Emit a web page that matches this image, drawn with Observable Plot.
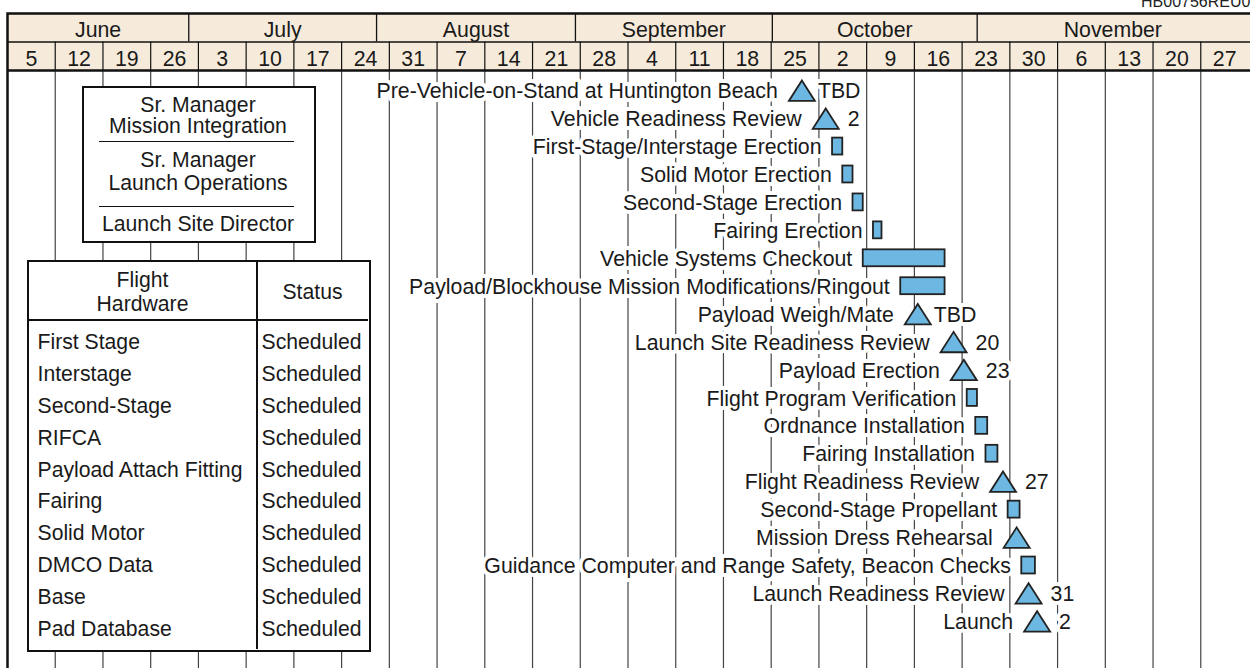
<!DOCTYPE html>
<html><head><meta charset="utf-8">
<script src="https://cdn.jsdelivr.net/npm/d3@7"></script>
<script src="https://cdn.jsdelivr.net/npm/@observablehq/plot@0.6"></script>
<style>
html,body{margin:0;padding:0;background:#fff;overflow:hidden;}
#wrap{position:relative;width:1250px;height:668px;overflow:hidden;font-family:"Liberation Sans",Arial,Helvetica,sans-serif;color:#1a1a1a;}
#charts{position:absolute;left:0;top:0;width:1260px;}
#charts svg{display:block;max-width:none;}
.box{position:absolute;box-sizing:border-box;border:2.5px solid #111;background:#fff;}
.ln{position:absolute;white-space:nowrap;font-size:21.2px;line-height:24px;height:24px;}
.sep{position:absolute;background:#111;}
#code{position:absolute;left:1141px;top:-6px;font-size:16px;line-height:16px;white-space:nowrap;color:#222;}
</style></head><body>
<div id="wrap"><div id="charts"></div><div id="code">HB00756REU0.3</div></div>
<script>
// ---------- data ----------
const months = ["June","July","August","September","October","November"];
const monthStarts = ["2000-06-05","2000-07-01T14:00Z","2000-07-29T03:00Z","2000-08-27T07:00Z","2000-09-25T04:00Z","2000-10-25T05:00Z"];
const scheduleEnd = "2000-12-04";
const weekStarts = ["2000-06-05","2000-06-12","2000-06-19","2000-06-26","2000-07-03","2000-07-10","2000-07-17","2000-07-24","2000-07-31","2000-08-07","2000-08-14","2000-08-21","2000-08-28","2000-09-04","2000-09-11","2000-09-18","2000-09-25","2000-10-02","2000-10-09","2000-10-16","2000-10-23","2000-10-30","2000-11-06","2000-11-13","2000-11-20","2000-11-27"];
const weekLabels = ["5","12","19","26","3","10","17","24","31","7","14","21","28","4","11","18","25","2","9","16","23","30","6","13","20","27"];

const taskNames = [
  "Pre-Vehicle-on-Stand at Huntington Beach",
  "Vehicle Readiness Review",
  "First-Stage/Interstage Erection",
  "Solid Motor Erection",
  "Second-Stage Erection",
  "Fairing Erection",
  "Vehicle Systems Checkout",
  "Payload/Blockhouse Mission Modifications/Ringout",
  "Payload Weigh/Mate",
  "Launch Site Readiness Review",
  "Payload Erection",
  "Flight Program Verification",
  "Ordnance Installation",
  "Fairing Installation",
  "Flight Readiness Review",
  "Second-Stage Propellant",
  "Mission Dress Rehearsal",
  "Guidance Computer and Range Safety, Beacon Checks",
  "Launch Readiness Review",
  "Launch"
];
const taskKinds = ["milestone","milestone","bar","bar","bar","bar","bar","bar","milestone","milestone","milestone","bar","bar","bar","milestone","bar","milestone","bar","milestone","milestone"];
const taskStarts = ["2000-09-29T12:00Z","2000-10-03T00:00Z","2000-10-04T00:00Z","2000-10-05T12:00Z","2000-10-07T00:00Z","2000-10-10T00:00Z","2000-10-08T12:00Z","2000-10-14T00:00Z","2000-10-16T12:00Z","2000-10-21T18:00Z","2000-10-23T06:00Z","2000-10-23T18:00Z","2000-10-25T00:00Z","2000-10-26T12:00Z","2000-10-29T00:00Z","2000-10-29T18:00Z","2000-10-31T00:00Z","2000-10-31T18:00Z","2000-11-01T18:00Z","2000-11-03T00:00Z"];
const taskEnds = [null,null,"2000-10-05T12:00Z","2000-10-07T00:00Z","2000-10-08T12:00Z","2000-10-11T06:00Z","2000-10-20T12:00Z","2000-10-20T12:00Z",null,null,null,"2000-10-25T06:00Z","2000-10-26T18:00Z","2000-10-28T06:00Z",null,"2000-10-31T12:00Z",null,"2000-11-02T18:00Z",null,null];
const taskNotes = ["TBD","2","","","","","","","TBD","20","23","","","","27","","","","31","2"];

const managerRoles = [["Sr. Manager","Mission Integration"],["Sr. Manager","Launch Operations"],["Launch Site Director"]];
const hardwareHeader = ["Flight\nHardware","Status"];
const hardwareItems = ["First Stage","Interstage","Second-Stage","RIFCA","Payload Attach Fitting","Fairing","Solid Motor","DMCO Data","Base","Pad Database"];
const hardwareStatus = ["Scheduled","Scheduled","Scheduled","Scheduled","Scheduled","Scheduled","Scheduled","Scheduled","Scheduled","Scheduled"];

// ---------- styles ----------
const FONT = '"Liberation Sans", Arial, Helvetica, sans-serif';
const FS = 21.3;
const INK = "#1a1a1a";
const BLUE = "#6db8e2";
const BEIGE = "#f6ebda";
const DAY = 864e5;

const parse = s => new Date(s);
const xScale = {type: "utc", domain: [parse(weekStarts[0]), parse(scheduleEnd)], range: [7, 1248], axis: null};
const svgStyle = {fontFamily: FONT, fontSize: FS + "px", background: "transparent", maxWidth: "none", color: INK};

const monthData = months.map((name, i) => ({name, start: parse(monthStarts[i]), end: parse(i + 1 < months.length ? monthStarts[i + 1] : scheduleEnd)}));
const weekData = weekStarts.map((s, i) => ({label: weekLabels[i], start: parse(s), end: new Date(+parse(s) + 7 * DAY)}));

const header = Plot.plot({
  width: 1260, height: 70, marginTop: 13, marginBottom: 0, marginLeft: 7, marginRight: 5,
  x: xScale,
  y: {type: "linear", domain: [0, 2], range: [13, 70], axis: null},
  style: svgStyle,
  marks: [
    Plot.rect(monthData, {x1: "start", x2: d => new Date(+d.end + 3 * DAY), y1: 0, y2: 1, fill: BEIGE}),
    Plot.rect(weekData, {x1: "start", x2: d => new Date(+d.end + 3 * DAY), y1: 1, y2: 2, fill: BEIGE}),
    Plot.ruleY([1], {stroke: "#111", strokeWidth: 1.6}),
    Plot.ruleX(monthData.slice(1), {x: "start", y1: 0, y2: 1, stroke: "#111", strokeWidth: 1.3}),
    Plot.ruleX(weekData.slice(1), {x: "start", y1: 1, y2: 2, stroke: "#111", strokeWidth: 1.2}),
    Plot.text(monthData, {x: d => new Date((+d.start + +d.end) / 2), y: () => 0.5, text: "name", fontSize: FS, fill: INK, dy: 2.5}),
    Plot.text(weekData, {x: d => new Date((+d.start + +d.end) / 2), y: () => 1.5, text: "label", fontSize: FS, fill: INK, dy: 2.5}),
    Plot.frame({stroke: "#111", strokeWidth: 2.5})
  ]
});

const tasks = taskNames.map((name, i) => ({
  name, kind: taskKinds[i], start: parse(taskStarts[i]),
  end: taskEnds[i] ? parse(taskEnds[i]) : null, note: taskNotes[i]
}));
const bars = tasks.filter(d => d.kind === "bar");
const miles = tasks.filter(d => d.kind === "milestone");

const triangle = {
  draw(ctx, size) {
    const r = Math.sqrt(size / Math.PI);
    const w = 1.3 * r, h = 1.02 * r;
    ctx.moveTo(0, -h); ctx.lineTo(w, h); ctx.lineTo(-w, h); ctx.closePath();
  }
};
const halo = {stroke: "white", strokeWidth: 8, paintOrder: "stroke", strokeLinejoin: "round", fill: INK, fontSize: FS};

const body = Plot.plot({
  width: 1260, height: 610, marginTop: 0, marginBottom: 0, marginLeft: 7, marginRight: 5,
  x: xScale,
  y: {type: "band", domain: taskNames, range: [6.235, 564.835], padding: 0, round: false, axis: null},
  style: svgStyle,
  marks: [
    Plot.ruleX(weekData.slice(1), {x: "start", stroke: "#444", strokeWidth: 1.2}),
    Plot.frame({stroke: "#111", strokeWidth: 2.5}),
    Plot.text(bars, {x: "start", y: "name", text: "name", textAnchor: "end", dx: -11, dy: 0.8, ...halo}),
    Plot.text(miles, {x: "start", y: "name", text: "name", textAnchor: "end", dx: -24, dy: 0.8, ...halo}),
    Plot.text(miles.filter(d => d.note === "TBD"), {x: "start", y: "name", text: "note", textAnchor: "start", dx: 16, dy: 0.8, ...halo}),
    Plot.text(miles.filter(d => d.note && d.note !== "TBD"), {x: "start", y: "name", text: "note", textAnchor: "start", dx: 22, dy: 0.8, ...halo}),
    Plot.rect(bars, {x1: "start", x2: "end", y: "name", insetTop: 5.5, insetBottom: 5.5, fill: BLUE, stroke: "#222", strokeWidth: 1.8}),
    Plot.dot(miles, {x: "start", y: "name", r: 10, symbol: triangle, fill: BLUE, stroke: "#222", strokeWidth: 1.8})
  ]
});

const charts = document.getElementById("charts");
charts.append(header, body);

// ---------- boxes (annotations) ----------
const wrap = document.getElementById("wrap");
function box(left, top, w, h) {
  const b = document.createElement("div");
  b.className = "box";
  Object.assign(b.style, {left: left + "px", top: top + "px", width: w + "px", height: h + "px"});
  wrap.append(b);
  return b;
}
function line(parent, text, cy, left, width, align) {
  const d = document.createElement("div");
  d.className = "ln";
  d.textContent = text;
  Object.assign(d.style, {top: (cy - 12) + "px", left: left + "px", width: width + "px", textAlign: align});
  parent.append(d);
}
function sep(parent, left, top, w, h) {
  const s = document.createElement("div");
  s.className = "sep";
  Object.assign(s.style, {left: left + "px", top: top + "px", width: w + "px", height: h + "px"});
  parent.append(s);
}

// manager box: outer (81.5, 85.5), inner origin (84, 88)
const mgr = box(81.5, 85.5, 234, 157.5);
const mgrCenters = [[105, 126.7], [160, 183.3], [224]];
managerRoles.forEach((lines, g) => lines.forEach((t, k) => line(mgr, t, mgrCenters[g][k] - 88, 0, 229, "center")));
[141.7, 206.7].forEach(y => sep(mgr, 15.3, y - 88 - 0.65, 195.7, 1.3));

// hardware table: outer (27, 260), inner origin (29.5, 262.5)
const hw = box(27, 260, 343.5, 392);
sep(hw, 227.05, 0, 1.5, 387);
sep(hw, 0, 57.45, 338.5, 1.5);
hardwareHeader[0].split("\n").forEach((t, k) => line(hw, t, [280.7, 304][k] - 262.5, 0, 227, "center"));
line(hw, hardwareHeader[1], 292.7 - 262.5, 228.5, 110, "center");
hardwareItems.forEach((t, i) => {
  const cy = 342.7 + 31.85 * i - 262.5;
  line(hw, t, cy, 8.5, 215, "left");
  line(hw, hardwareStatus[i], cy, 232.5, 110, "left");
});
</script>
</body></html>
